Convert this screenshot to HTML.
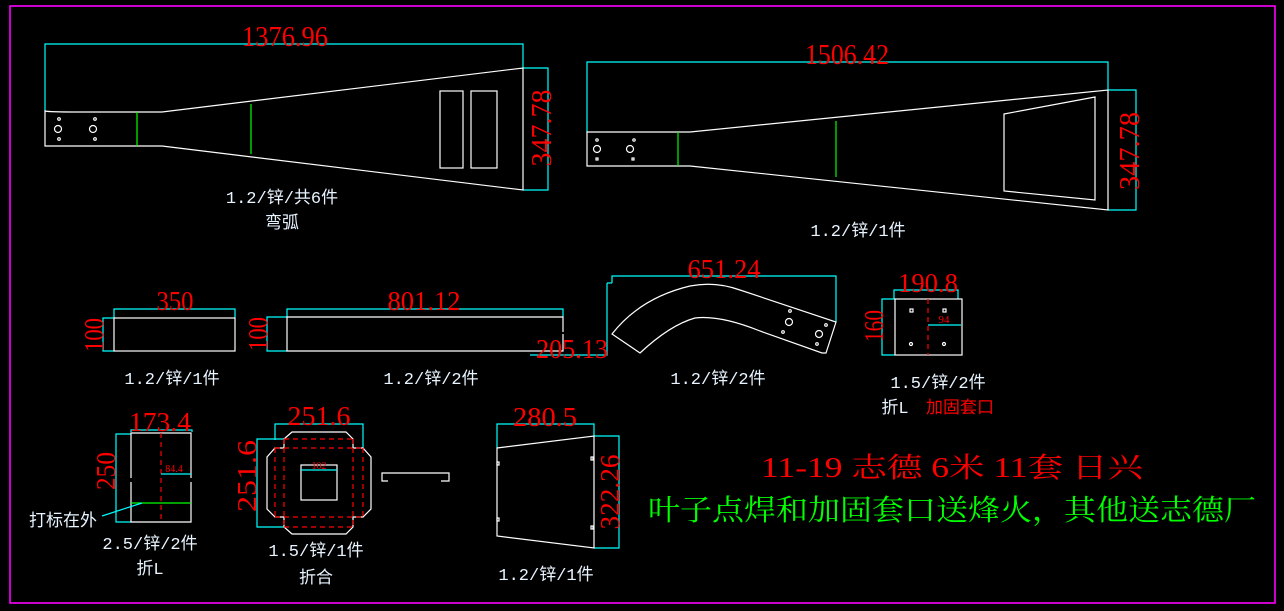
<!DOCTYPE html>
<html><head><meta charset="utf-8"><style>
html,body{margin:0;padding:0;background:#000;}
svg{display:block;}
.w{stroke:#fff;fill:none;stroke-width:1.2}
.c{stroke:#00ffff;fill:none;stroke-width:1.2}
.g{stroke:#00ff00;fill:none;stroke-width:1.2}
.r{stroke:#ff0000;fill:none;stroke-width:1.2;stroke-dasharray:5,4}
.n{fill:#ff0000;font-family:"Liberation Serif",serif;}
.t{fill:#e8f4ff;font-family:"Liberation Mono","Noto Sans CJK SC",monospace;font-size:17px;text-anchor:middle}
</style></head><body>
<svg width="1284" height="611" viewBox="0 0 1284 611" xmlns="http://www.w3.org/2000/svg">
<rect x="0" y="0" width="1284" height="611" fill="#000"/>
<rect x="10" y="6" width="1265" height="597" fill="none" stroke="#ff00ff" stroke-width="1.6"/>

<!-- Part 1 -->
<polyline class="c" points="45,111 45,44 523,44 523,68"/>
<polyline class="c" points="523,68 548,68 548,190 523,190"/>
<text class="n" x="285" y="46" font-size="28" text-anchor="middle" textLength="86" lengthAdjust="spacingAndGlyphs">1376.96</text>
<text class="n" font-size="28" text-anchor="middle" transform="translate(551,128) rotate(-90)" textLength="77" lengthAdjust="spacingAndGlyphs">347.78</text>
<path class="w" d="M45,111 Q48,112 80,112 L162,112 L523,68 L523,190 L162,146 L45,146 Z"/>
<line class="g" x1="137" y1="112" x2="137" y2="146"/>
<line class="g" x1="251" y1="104" x2="251" y2="154"/>
<circle class="w" cx="58" cy="129" r="3.5"/><circle class="w" cx="93" cy="129" r="3.5"/>
<circle class="w" cx="59" cy="119" r="1.3"/><circle class="w" cx="95" cy="119" r="1.3"/>
<circle class="w" cx="59" cy="139" r="1.3"/><circle class="w" cx="95" cy="139" r="1.3"/>
<rect class="w" x="440" y="91" width="23" height="77"/>
<rect class="w" x="471" y="91" width="26" height="77"/>
<text class="t" x="282" y="203">1.2/锌/共6件</text>
<text class="t" x="282" y="228">弯弧</text>

<!-- Part 2 -->
<polyline class="c" points="587,132 587,62 1108,62 1108,90"/>
<polyline class="c" points="1108,90 1136,90 1136,210 1108,210"/>
<text class="n" x="847" y="64" font-size="28" text-anchor="middle" textLength="84" lengthAdjust="spacingAndGlyphs">1506.42</text>
<text class="n" font-size="28" text-anchor="middle" transform="translate(1139,151) rotate(-90)" textLength="78" lengthAdjust="spacingAndGlyphs">347.78</text>
<path class="w" d="M587,132 L690,132 L1108,90 L1108,210 L690,166 L587,166 Z"/>
<line class="g" x1="678" y1="132" x2="678" y2="166"/>
<line class="g" x1="836" y1="121" x2="836" y2="177"/>
<polygon class="w" points="1004,114 1095,97 1095,200 1004,191"/>
<circle class="w" cx="597" cy="149" r="3.5"/><circle class="w" cx="630" cy="149" r="3.5"/>
<circle class="w" cx="597" cy="140" r="1.2"/><circle class="w" cx="634" cy="140" r="1.2"/>
<rect class="w" x="596" y="158" width="2" height="2"/><rect class="w" x="632" y="158" width="2" height="2"/>
<text class="t" x="858" y="236">1.2/锌/1件</text>

<!-- 350 -->
<polyline class="c" points="114,318 114,309 235,309 235,318"/>
<polyline class="c" points="114,318 103,318 103,351 114,351"/>
<text class="n" x="175" y="310" font-size="27" text-anchor="middle" textLength="37" lengthAdjust="spacingAndGlyphs">350</text>
<text class="n" font-size="27" text-anchor="middle" transform="translate(103,335) rotate(-90)" textLength="34" lengthAdjust="spacingAndGlyphs">100</text>
<rect class="w" x="114" y="318" width="121" height="33"/>
<text class="t" x="172" y="384">1.2/锌/1件</text>

<!-- 801.12 -->
<polyline class="c" points="287,317 287,309 563,309 563,317"/>
<polyline class="c" points="287,317 267,317 267,351 287,351"/>
<text class="n" x="424" y="310" font-size="27" text-anchor="middle" textLength="73" lengthAdjust="spacingAndGlyphs">801.12</text>
<text class="n" font-size="27" text-anchor="middle" transform="translate(267,334) rotate(-90)" textLength="34" lengthAdjust="spacingAndGlyphs">100</text>
<polyline class="w" points="563,332 563,317 287,317 287,351 563,351 563,334"/>
<text class="t" x="431" y="384">1.2/锌/2件</text>

<!-- 651.24 -->
<polyline class="c" points="612,283 612,276 836,276 836,322"/>
<polyline class="c" points="607,283 607,355 530,355"/>
<line class="c" x1="607" y1="283" x2="612" y2="283"/>
<text class="n" x="724" y="278" font-size="27" text-anchor="middle" textLength="73" lengthAdjust="spacingAndGlyphs">651.24</text>
<text class="n" x="572" y="358" font-size="27" text-anchor="middle" textLength="72" lengthAdjust="spacingAndGlyphs">205.13</text>
<path class="w" d="M612,334 Q640,298 690,286 Q715,281 740,290 L836,322 L826,353 L822,353 L760,331 Q720,315 695,318 Q670,325 640,353 Z"/>
<circle class="w" cx="789" cy="322" r="3.5"/><circle class="w" cx="819" cy="334" r="3.5"/>
<circle class="w" cx="790" cy="311" r="1.3"/><circle class="w" cx="826" cy="325" r="1.3"/>
<circle class="w" cx="783" cy="332" r="1.3"/><circle class="w" cx="817" cy="344" r="1.3"/>
<text class="t" x="718" y="384">1.2/锌/2件</text>

<!-- 190.8 -->
<polyline class="c" points="894,299 894,290 958,290 958,299"/>
<polyline class="c" points="895,299 882,299 882,355 895,355"/>
<text class="n" x="928" y="292" font-size="27" text-anchor="middle" textLength="60" lengthAdjust="spacingAndGlyphs">190.8</text>
<text class="n" font-size="27" text-anchor="middle" transform="translate(883,326) rotate(-90)" textLength="32" lengthAdjust="spacingAndGlyphs">160</text>
<rect class="w" x="895" y="299" width="67" height="56"/>
<line class="r" x1="928" y1="299" x2="928" y2="355"/>
<line class="c" x1="928" y1="325" x2="961" y2="325"/>
<text class="n" x="944" y="323" font-size="11" text-anchor="middle">94</text>
<rect class="w" x="910" y="309" width="3" height="3"/><rect class="w" x="943" y="309" width="3" height="3"/>
<circle class="w" cx="911" cy="344" r="1.5"/><circle class="w" cx="944" cy="344" r="1.5"/>
<text class="t" x="938" y="388">1.5/锌/2件</text>
<text class="t" x="895" y="413">折L</text>
<text x="960" y="413" fill="#ff0000" font-family="'Liberation Sans','Noto Sans CJK SC',sans-serif" font-size="17" text-anchor="middle">加固套口</text>

<!-- 173.4 -->
<polyline class="c" points="131,432 131,430 192,430 192,432"/>
<polyline class="c" points="131,434 116,434 116,522 131,522"/>
<text class="n" x="160" y="431" font-size="27" text-anchor="middle" textLength="62" lengthAdjust="spacingAndGlyphs">173.4</text>
<text class="n" font-size="27" text-anchor="middle" transform="translate(115,471) rotate(-90)" textLength="38" lengthAdjust="spacingAndGlyphs">250</text>
<polyline class="w" points="131,478 131,433 191,433 191,478"/>
<polyline class="w" points="131,482 131,522 191,522 191,482"/>
<line class="r" x1="161" y1="433" x2="161" y2="522"/>
<line class="c" x1="161" y1="474" x2="191" y2="474"/>
<text class="n" x="174" y="472" font-size="10" text-anchor="middle">84.4</text>
<line class="g" x1="131" y1="503" x2="191" y2="503"/>
<line class="c" x1="102" y1="516" x2="142" y2="503"/>
<text x="63" y="526" fill="#e8f4ff" font-family="'Liberation Sans','Noto Sans CJK SC',sans-serif" font-size="17" text-anchor="middle">打标在外</text>
<text class="t" x="150" y="549">2.5/锌/2件</text>
<text class="t" x="150" y="574">折L</text>

<!-- 251.6 -->
<polyline class="c" points="275,440 275,424 363,424 363,448"/>
<polyline class="c" points="284,439 257,439 257,527 284,527"/>
<text class="n" x="319" y="425" font-size="27" text-anchor="middle" textLength="63" lengthAdjust="spacingAndGlyphs">251.6</text>
<text class="n" font-size="27" text-anchor="middle" transform="translate(256,476) rotate(-90)" textLength="72" lengthAdjust="spacingAndGlyphs">251.6</text>
<polygon class="w" points="284,439 292,432 346,432 353,439 353,448 363,448 371,457 371,509 363,517 353,517 353,527 346,534 292,534 284,527 284,517 275,517 267,509 267,457 275,448 284,448"/>
<line class="r" x1="284" y1="439" x2="353" y2="439"/>
<line class="r" x1="275" y1="448" x2="363" y2="448"/>
<line class="r" x1="275" y1="517" x2="363" y2="517"/>
<line class="r" x1="284" y1="527" x2="353" y2="527"/>
<line class="r" x1="284" y1="439" x2="284" y2="527"/>
<line class="r" x1="353" y1="439" x2="353" y2="527"/>
<line class="r" x1="275" y1="448" x2="275" y2="517"/>
<line class="r" x1="363" y1="448" x2="363" y2="517"/>
<rect class="w" x="301" y="465" width="36" height="35"/>
<line class="c" x1="301" y1="470" x2="337" y2="470"/>
<text class="n" x="319" y="469" font-size="10" text-anchor="middle">102</text>
<text class="t" x="316" y="556">1.5/锌/1件</text>
<text class="t" x="316" y="583">折合</text>

<!-- small profile -->
<polyline class="w" points="388,481 382,481 382,473 449,473 449,481 441,481"/>

<!-- 280.5 -->
<polyline class="c" points="497,448 497,424 594,424 594,436"/>
<polyline class="c" points="594,436 619,436 619,548 594,548"/>
<text class="n" x="545" y="426" font-size="27" text-anchor="middle" textLength="64" lengthAdjust="spacingAndGlyphs">280.5</text>
<text class="n" font-size="27" text-anchor="middle" transform="translate(619,492) rotate(-90)" textLength="75" lengthAdjust="spacingAndGlyphs">322.26</text>
<polygon class="w" points="497,448 594,436 594,548 497,536"/>
<rect class="w" x="497" y="462" width="2" height="3"/><rect class="w" x="497" y="518" width="2" height="3"/>
<rect class="w" x="591" y="457" width="2" height="3"/><rect class="w" x="591" y="526" width="2" height="3"/>
<text class="t" x="546" y="580">1.2/锌/1件</text>

<!-- notes -->
<text x="952" y="477" fill="#ff0000" font-family="'Liberation Serif','Noto Serif CJK SC',serif" font-size="28" text-anchor="middle" textLength="382" lengthAdjust="spacingAndGlyphs">11-19 志德 6米 11套 日兴</text>
<text x="952" y="520" fill="#00ff00" font-family="'Liberation Serif','Noto Serif CJK SC',serif" font-size="29" text-anchor="middle" textLength="608" lengthAdjust="spacingAndGlyphs">叶子点焊和加固套口送烽火，其他送志德厂</text>
</svg>
</body></html>
